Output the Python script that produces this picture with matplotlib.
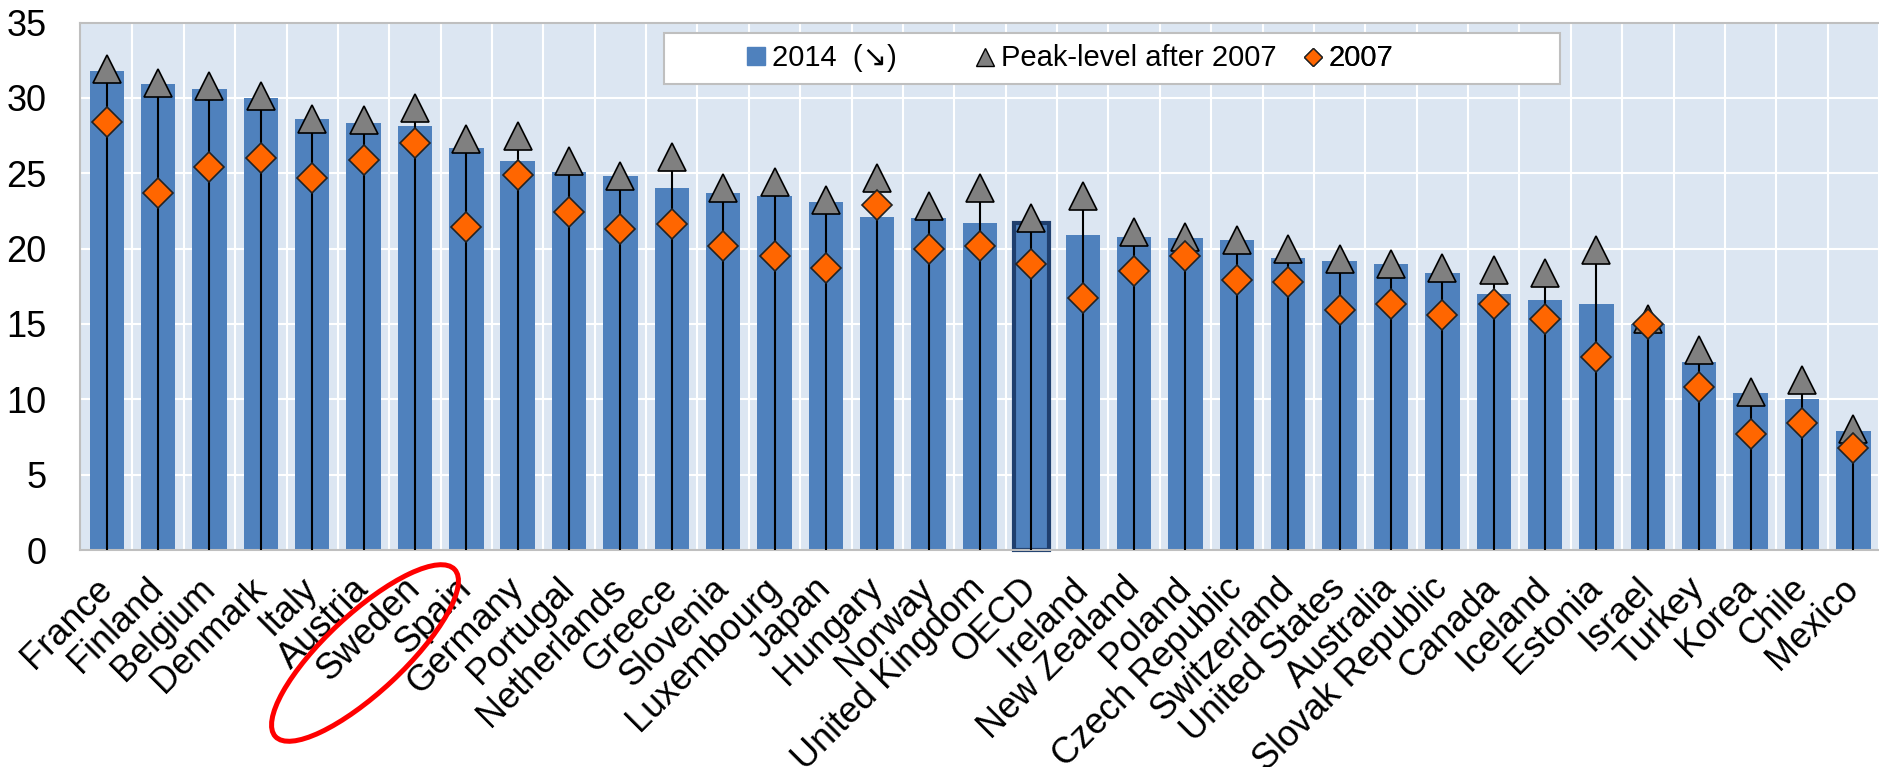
import matplotlib.pyplot as plt
from matplotlib.patches import Ellipse, Rectangle, Patch
from matplotlib.lines import Line2D

plt.rcParams['font.family'] = ['Liberation Sans', 'DejaVu Sans']

countries = ['France', 'Finland', 'Belgium', 'Denmark', 'Italy', 'Austria', 'Sweden',
             'Spain', 'Germany', 'Portugal', 'Netherlands', 'Greece', 'Slovenia',
             'Luxembourg', 'Japan', 'Hungary', 'Norway', 'United Kingdom', 'OECD',
             'Ireland', 'New Zealand', 'Poland', 'Czech Republic', 'Switzerland',
             'United States', 'Australia', 'Slovak Republic', 'Canada', 'Iceland',
             'Estonia', 'Israel', 'Turkey', 'Korea', 'Chile', 'Mexico']

# 2014 level (bars)
v2014 = [31.8, 30.9, 30.6, 30.0, 28.6, 28.3, 28.1, 26.7, 25.8, 25.1, 24.8, 24.0, 23.7,
         23.5, 23.1, 22.1, 22.0, 21.7, 21.7, 20.9, 20.8, 20.7, 20.6, 19.4, 19.2, 19.0,
         18.4, 17.0, 16.6, 16.3, 15.0, 12.5, 10.4, 10.0, 7.9]
# peak level after 2007 (triangles)
peak = [31.9, 31.0, 30.8, 30.1, 28.6, 28.5, 29.3, 27.3, 27.5, 25.8, 24.8, 26.1, 24.0,
        24.4, 23.2, 24.7, 22.8, 24.0, 22.0, 23.5, 21.1, 20.8, 20.6, 20.0, 19.3, 19.0,
        18.7, 18.6, 18.4, 19.9, 15.3, 13.3, 10.5, 11.3, 8.0]
# 2007 level (diamonds)
v2007 = [28.4, 23.7, 25.4, 26.0, 24.7, 25.9, 27.0, 21.4, 24.9, 22.4, 21.3, 21.6, 20.2,
         19.5, 18.7, 22.9, 20.0, 20.2, 19.0, 16.7, 18.5, 19.5, 17.9, 17.8, 15.9, 16.3,
         15.6, 16.3, 15.3, 12.8, 15.0, 10.8, 7.7, 8.4, 6.8]

legend_labels = ['2014  (\u2198)', 'Peak-level after 2007', '2007']

W, H = 1879, 767
fig = plt.figure(figsize=(W / 100, H / 100), dpi=100)
ax = fig.add_axes([80 / W, 1 - 550 / H, 1 - 80 / W, (550 - 22.5) / H])
ax.set_facecolor('#DCE6F2')

x = list(range(len(countries)))
bars = ax.bar(x, v2014, width=0.67, color='#4F81BD', zorder=2)
oecd = countries.index('OECD')
bars[oecd].set_edgecolor('#1F3F6E')
bars[oecd].set_linewidth(3)
bars[oecd].set_clip_on(False)

ax.vlines(x, 0, peak, color='black', lw=1.5, zorder=3)
ax.plot(x, peak, ls='none', marker='^', ms=20, mfc='#808080', mec='black', mew=1.2, zorder=4)
ax.plot(x, v2007, ls='none', marker='D', ms=15, mfc='#FF6600', mec='#222222', mew=1.2, zorder=5)

ax.set_xlim(-0.52, 34.47)
ax.set_ylim(0, 35)
ax.set_yticks(range(0, 36, 5))
ax.set_xticks(x)
ax.set_xticklabels(countries, rotation=45, ha='right', va='center', rotation_mode='anchor',
                   fontsize=26)
ax.set_xticks([i + 0.5 for i in x], minor=True)
ax.tick_params(axis='both', which='both', length=0)
ax.tick_params(axis='y', labelsize=26, pad=24)
ax.tick_params(axis='x', pad=24)
ax.set_axisbelow(True)
ax.grid(which='minor', axis='x', color='white', lw=1.5)
ax.grid(which='major', axis='y', color='white', lw=1.5)
ax.grid(which='major', axis='x', visible=False)
for s in ['top', 'left', 'bottom']:
    ax.spines[s].set_color('#BFBFBF')
    ax.spines[s].set_linewidth(1.5)
ax.spines['right'].set_visible(False)

# legend box with the three entries placed along it
ax.add_patch(Rectangle((0.3246, 0.883), 0.4981, 0.097, transform=ax.transAxes,
                       facecolor='white', edgecolor='#BFBFBF', lw=1.5, zorder=6))
handles = [Patch(color='#4F81BD'),
           Line2D([], [], ls='none', marker='^', ms=13, mfc='#808080', mec='black', mew=1),
           Line2D([], [], ls='none', marker='D', ms=9, mfc='#FF6600', mec='#222222', mew=1)]
for h, lab, px in zip(handles, legend_labels, [747, 976, 1304]):
    leg = ax.legend([h], [lab], loc='center left', bbox_to_anchor=((px - 80) / 1799, 0.9318),
                    frameon=False, fontsize=21, borderpad=0, borderaxespad=0,
                    handlelength=0.6, handleheight=0.6, handletextpad=0.25)
    leg.set_zorder(7)
    ax.add_artist(leg)

# red highlight around Sweden
fig.add_artist(Ellipse((3.65, 1.14), 2.45, 0.78, angle=43, transform=fig.dpi_scale_trans,
                       fill=False, ec='red', lw=3.6))

fig.savefig('out.png', dpi=100)
